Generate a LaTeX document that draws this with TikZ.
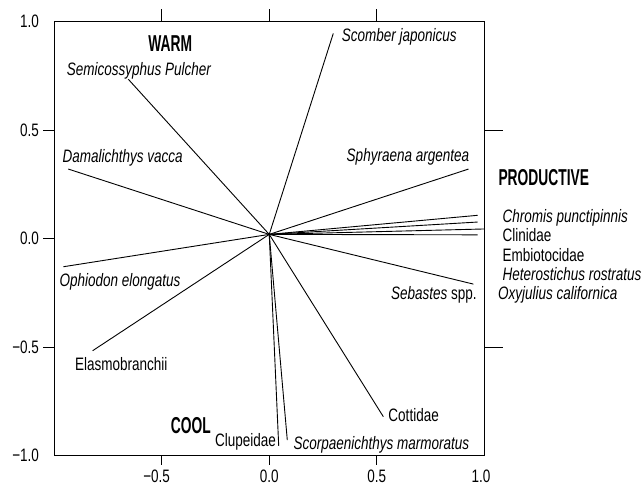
\documentclass[tikz,border=0pt]{standalone}
\usepackage{fontspec}
\setmainfont{Liberation Sans}[FakeStretch=0.75]
\newfontfamily\headfont{Liberation Sans}[FakeStretch=0.6]

\begin{document}
\begin{tikzpicture}[x=214.85pt, y=217pt,
    font=\fontsize{18}{20}\selectfont,
    frame/.style={line width=1pt},
    vec/.style={line width=0.9pt},
    sp/.style={font=\fontsize{18}{20}\selectfont\itshape, inner sep=0pt},
    fam/.style={inner sep=0pt},
    head/.style={font=\fontsize{23}{25}\selectfont\headfont\bfseries, inner sep=0pt},
    num/.style={inner sep=0pt}]

      \useasboundingbox (-1.253,-1.153) rectangle (1.744,1.100);

      \draw[frame] (-1,-1) rectangle (1,1);
      \foreach \v in {-0.5,0,0.5} {
        \draw[frame] (-1,\v) -- ++(-0.051,0);
        \draw[frame] (\v,-1) -- ++(0,-0.043);
        \draw[frame] (\v,1) -- ++(0,0.057);
      }
      \draw[frame] (1,0.5) -- ++(0.087,0);
      \draw[frame] (1,-0.5) -- ++(0.087,0);

      \node[num, anchor=east] (y10) at (-1.071,1) {1.0};
      \node[num, anchor=east] (y05) at (-1.071,0.5) {0.5};
      \node[num, anchor=east] (y00) at (-1.071,0) {0.0};
      \node[num, anchor=east] (ym05) at (-1.071,-0.5) {\char"2212 0.5};
      \node[num, anchor=east] (ym10) at (-1.071,-1) {\char"2212 1.0};

      \node[num, anchor=base] (xm05) at (-0.524,-1.122) {\char"2212 0.5};
      \node[num, anchor=base] (x00) at (0,-1.122) {0.0};
      \node[num, anchor=base] (x05) at (0.5,-1.122) {0.5};
      \node[num, anchor=base] (x10) at (0.985,-1.122) {1.0};

      \coordinate (o) at (0,0.02);
      \coordinate (semi) at (-0.656,0.735);
      \coordinate (dama) at (-0.935,0.321);
      \coordinate (scom) at (0.298,0.946);
      \coordinate (sphy) at (0.927,0.321);
      \coordinate (chro) at (0.970,0.108);
      \coordinate (clin) at (0.970,0.077);
      \coordinate (embi) at (1.0,0.045);
      \coordinate (hete) at (0.970,0.018);
      \coordinate (seba) at (0.950,-0.209);
      \coordinate (cott) at (0.531,-0.820);
      \coordinate (scor) at (0.084,-0.928);
      \coordinate (clup) at (0.044,-0.954);
      \coordinate (elas) at (-0.822,-0.516);
      \coordinate (ophi) at (-0.958,-0.129);

      \foreach \e in {semi,dama,scom,sphy,chro,clin,embi,hete,seba,cott,scor,clup,elas,ophi}
        \draw[vec] (o) -- (\e);

      \node[head] (warm) at (-0.461,0.900) {WARM};
      \node[head] (cool) at (-0.365,-0.860) {COOL};
      \node[head, anchor=base west] (prod) at (1.066,0.245) {PRODUCTIVE};

      \node[sp, anchor=base west] (semilab) at (-0.943,0.750) {Semicossyphus Pulcher};
      \node[sp, anchor=base west] (damalab) at (-0.963,0.350) {Damalichthys vacca};
      \node[sp, anchor=base west] (scomlab) at (0.337,0.908) {Scomber japonicus};
      \node[sp, anchor=base east] (sphylab) at (0.931,0.355) {Sphyraena argentea};
      \node[sp, anchor=base west] (ophilab) at (-0.977,-0.221) {Ophiodon elongatus};
      \node[fam, anchor=base west] (elaslab) at (-0.904,-0.605) {Elasmobranchii};
      \node[fam, anchor=base east] (cluplab) at (0.032,-0.959) {Clupeidae};
      \node[sp, anchor=base west] (scorlab) at (0.112,-0.969) {Scorpaenichthys marmoratus};
      \node[fam, anchor=base west] (cottlab) at (0.554,-0.843) {Cottidae};
      \node[fam, anchor=base east] (sebalab) at (0.966,-0.282) {\itshape Sebastes\upshape{} spp.};

      \node[sp, anchor=base west] (chrolab) at (1.085,0.074) {Chromis punctipinnis};
      \node[fam, anchor=base west] (clinlab) at (1.085,-0.015) {Clinidae};
      \node[fam, anchor=base west] (embilab) at (1.085,-0.104) {Embiotocidae};
      \node[sp, anchor=base west] (hetelab) at (1.085,-0.193) {Heterostichus rostratus};
      \node[sp, anchor=base west] (oxyjlab) at (1.064,-0.282) {Oxyjulius californica};

    \end{tikzpicture}
\end{document}
